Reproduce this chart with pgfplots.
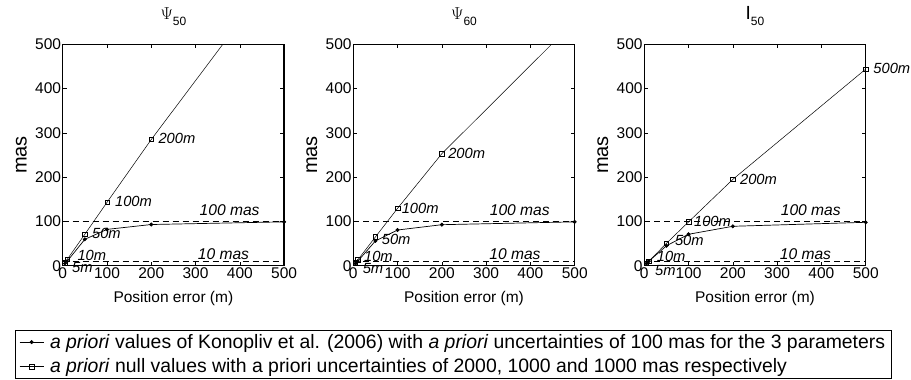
\documentclass[border=0pt]{standalone}
\usepackage{pgfplots}
\pgfplotsset{compat=1.18}
\usepackage{fontspec}
\setmainfont{Liberation Sans}

\pgfplotsset{
  panel/.style={
    scale only axis, width=221.4pt, height=221.4pt,
    xmin=0,xmax=500,ymin=0,ymax=500,
    xtick={0,100,...,500}, ytick={0,100,...,500},
    tick align=inside, major tick length=4pt,
    axis line style={line width=1.3pt},
    every tick/.style={black, line width=0.6pt},
    ticklabel style={font=\fontsize{15.5}{18}\selectfont},
    /pgf/number format/assume math mode=true,
    xlabel={Position error (m)}, ylabel={mas},
    xlabel style={font=\fontsize{15.5}{18}\selectfont, at={(rel axis cs:0.5,-0.146)}, anchor=center},
    ylabel style={font=\fontsize{20}{24}\selectfont, at={(rel axis cs:-0.187,0.5)}, anchor=center},
    title style={at={(rel axis cs:0.5,1.087)}, anchor=base},
    clip mode=individual,
    yticklabel style={inner sep=1.5pt},
    xticklabel style={inner sep=2pt},
  },
}
\tikzset{
  dots/.style={black, line width=0.7pt, mark=*, mark size=1.6pt},
  squares/.style={black, line width=0.5pt, mark=square, mark size=2.2pt, mark options={solid, line width=0.5pt}},
  hline/.style={black, line width=0.5pt, dash pattern=on 6pt off 4pt},
  lab/.style={font=\fontsize{14.7}{16}\selectfont\itshape, anchor=west, inner sep=0pt},
  mlab/.style={font=\fontsize{15.6}{18}\selectfont\itshape, anchor=center, inner sep=0pt},
}

\begin{document}
\begin{tikzpicture}
\path[use as bounding box] (0pt,0pt) rectangle (911pt,380pt);

% ---------- Psi 50 ----------
\begin{axis}[panel, at={(62.7pt,114.3pt)}, anchor=south west,
  title={\fontsize{19}{22}\selectfont$\Psi$\raisebox{-6pt}{\fontsize{12}{14}\selectfont 50}},
  legend style={at={(rel axis cs:-0.2154,-0.2904)}, anchor=north west, draw=black, line width=0.6pt,
    font=\fontsize{19.4}{23}\selectfont, cells={anchor=west}, row sep=5pt, column sep=4pt, inner xsep=4pt, inner ysep=2pt},
  legend image code/.code={\draw[#1, mark repeat=2, mark phase=2] plot coordinates {(0pt,0pt) (12pt,0pt) (24pt,0pt)};},
]
\addplot[hline, forget plot] coordinates {(0,100) (500,100)};
\addplot[hline, forget plot] coordinates {(0,10) (500,10)};
\addplot[dots] coordinates {(5,5) (10,10) (50,59.6) (100,82) (200,93) (500,99)};
\addplot[squares] coordinates {(5,7) (10,14) (50,71) (100,143) (200,285) (500,684)};
\addlegendentry{\textit{a priori} values of Konopliv et al. (2006) with \textit{a priori} uncertainties of 100 mas for the 3 parameters}
\addlegendentry{\textit{a priori} null values with a priori uncertainties of 2000, 1000 and 1000 mas respectively}
\node[lab] at (axis cs:216,287) {200m};
\node[lab] at (axis cs:118,144) {100m};
\node[lab] at (axis cs:66,73) {50m};
\node[lab] at (axis cs:33,24) {10m};
\node[lab] at (axis cs:21,-5) {5m};
\node[mlab] at (axis cs:377,126) {100 mas};
\node[mlab] at (axis cs:363,26) {10 mas};
\end{axis}

% ---------- Psi 60 ----------
\begin{axis}[panel, at={(353.3pt,114.3pt)}, anchor=south west,
  title={\fontsize{19}{22}\selectfont$\Psi$\raisebox{-6pt}{\fontsize{12}{14}\selectfont 60}},
]
\addplot[hline] coordinates {(0,100) (500,100)};
\addplot[hline] coordinates {(0,10) (500,10)};
\addplot[dots] coordinates {(5,5) (10,10) (50,56) (100,80.6) (200,92.6) (500,99)};
\addplot[squares] coordinates {(5,6.5) (10,13) (50,65) (100,129.6) (200,253) (500,552)};
\node[lab] at (axis cs:214,254) {200m};
\node[lab] at (axis cs:109,130) {100m};
\node[lab] at (axis cs:64,60) {50m};
\node[lab] at (axis cs:24,20) {10m};
\node[lab] at (axis cs:21,-6) {5m};
\node[mlab] at (axis cs:376,126) {100 mas};
\node[mlab] at (axis cs:365,26) {10 mas};
\end{axis}

% ---------- I 50 ----------
\begin{axis}[panel, at={(644.3pt,114.3pt)}, anchor=south west,
  title={\fontsize{19}{22}\selectfont I\raisebox{-6pt}{\fontsize{12}{14}\selectfont 50}},
]
\addplot[hline] coordinates {(0,100) (500,100)};
\addplot[hline] coordinates {(0,10) (500,10)};
\addplot[dots] coordinates {(5,5) (10,10) (50,45) (100,71) (200,89) (500,98)};
\addplot[squares] coordinates {(5,5) (10,10) (50,50.5) (100,99) (200,195) (500,444)};
\node[lab] at (axis cs:517,446) {500m};
\node[lab] at (axis cs:216,195) {200m};
\node[lab] at (axis cs:112,101) {100m};
\node[lab] at (axis cs:69,56) {50m};
\node[lab] at (axis cs:28,20) {10m};
\node[lab] at (axis cs:24,-10) {5m};
\node[mlab] at (axis cs:376,126) {100 mas};
\node[mlab] at (axis cs:364,26) {10 mas};
\end{axis}
\end{tikzpicture}
\end{document}
